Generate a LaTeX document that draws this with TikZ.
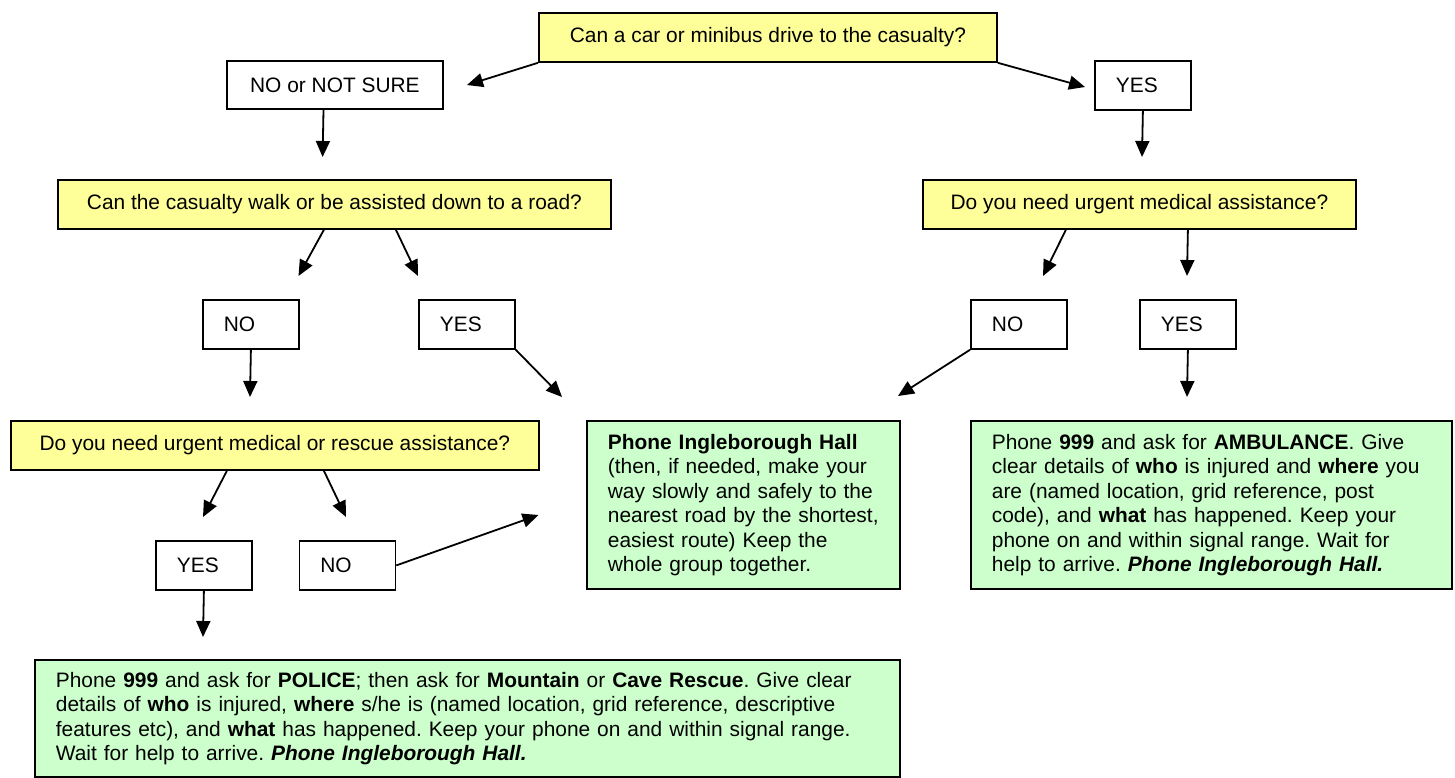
\documentclass[tikz,border=0pt]{standalone}
\usepackage{fontspec}
\setmainfont{Liberation Sans}
\usepackage{tikz}
\usetikzlibrary{arrows.meta, calc}
\definecolor{askYellow}{RGB}{255,255,153}
\definecolor{doGreen}{RGB}{204,255,204}
\frenchspacing

\begin{document}
\begin{tikzpicture}[x=0.5pt, y=-0.5pt, >={Triangle[length=8pt, width=7pt]},
	every node/.style={font=\fontsize{10.45}{12.25}\selectfont, line width=0.9pt},
	question/.style={draw, fill=askYellow, anchor=north west, minimum height=24.5pt, inner sep=0pt},
	answer/.style={draw, anchor=north west, minimum height=24.5pt, text width=27pt, inner xsep=10.5pt, inner ysep=0pt, align=left},
	action/.style={draw, fill=doGreen, anchor=north west, inner xsep=10.5pt, inner ysep=0pt, align=left},
	flow/.style={->, line width=0.9pt}]

	\useasboundingbox (0,0) rectangle (1455,777);

	% questions
	\node[question, minimum width=229pt] (carQ) at (538,12) {Can a car or minibus drive to the casualty?};
	\node[question, minimum width=276.5pt] (walkQ) at (57,179) {Can the casualty walk or be assisted down to a road?};
	\node[question, minimum width=216.5pt] (medQ) at (922,179) {Do you need urgent medical assistance?};
	\node[question, minimum width=264pt] (rescueQ) at (10,420) {Do you need urgent medical or rescue assistance?};

	% answers
	\node[draw, anchor=north west, minimum width=108pt, minimum height=24pt, inner sep=0pt] (notSure) at (226,60) {NO or NOT SURE};
	\node[answer] (carYes) at (1094,60) {YES};
	\node[answer] (walkNo) at (202,299) {NO};
	\node[answer] (walkYes) at (418,299) {YES};
	\node[answer] (medNo) at (970,299) {NO};
	\node[answer] (medYes) at (1139,299) {YES};
	\node[answer] (rescueYes) at (155,540) {YES};
	\node[answer] (rescueNo) at (298.5,540) {NO};

	% actions
	\node[action, text width=135.5pt, minimum height=84pt] (hall) at (586,420) {\textbf{Phone Ingleborough Hall}\\
		(then, if needed, make your\\
		way slowly and safely to the\\
		\mbox{nearest road by the shortest,}\\
		easiest route) Keep the\\
		whole group together.};
	\node[action, text width=219.5pt, minimum height=84pt] (ambulance) at (970,420) {Phone \textbf{999} and ask for \textbf{AMBULANCE}. Give\\
		clear details of \textbf{who} is injured and \textbf{where} you\\
		are (named location, grid reference, post\\
		code), and \textbf{what} has happened. Keep your\\
		phone on and within signal range. Wait for\\
		help to arrive. \textbf{\textit{Phone Ingleborough Hall.}}};
	\node[action, text width=411.5pt, minimum height=58.5pt] (police) at (34,659) {Phone \textbf{999} and ask for \textbf{POLICE}; then ask for \textbf{Mountain} or \textbf{Cave Rescue}. Give clear\\
		details of \textbf{who} is injured, \textbf{where} s/he is (named location, grid reference, descriptive\\
		features etc), and \textbf{what} has happened. Keep your phone on and within signal range.\\
		Wait for help to arrive. \textbf{\textit{Phone Ingleborough Hall.}}};

	% free arrow ends
	\coordinate (toNotSure) at (467,85);
	\coordinate (toCarYes) at (1085,87);
	\coordinate (toWalkQ) at (322.6,157);
	\coordinate (toMedQ) at (1142,157);
	\coordinate (toWalkNo) at (298.5,276);
	\coordinate (toWalkYes) at (418,276);
	\coordinate (toMedNo) at (1043,276);
	\coordinate (toMedYes) at (1187,276);
	\coordinate (toRescueQ) at (250,397);
	\coordinate (toHallL) at (562,397);
	\coordinate (toHallR) at (898,396);
	\coordinate (toAmbulance) at (1187,397);
	\coordinate (toRescueYes) at (203,517);
	\coordinate (toRescueNo) at (346,517);
	\coordinate (toHallB) at (538.5,515);
	\coordinate (toPolice) at (203,637);

	\draw[flow] (carQ.south west) -- (toNotSure);
	\draw[flow] (carQ.south east) -- (toCarYes);
	\draw[flow] ($(notSure.south)+(-11.4,0)$) -- (toWalkQ);
	\draw[flow] (carYes.south) -- (toMedQ);

	\draw[flow] ($(walkQ.south)+(-10.5,0)$) -- (toWalkNo);
	\draw[flow] ($(walkQ.south)+(61.5,0)$) -- (toWalkYes);
	\draw[flow] ($(medQ.south)+(-73.5,0)$) -- (toMedNo);
	\draw[flow] ($(medQ.south)+(48.5,0)$) -- (toMedYes);

	\draw[flow] (walkNo.south) -- (toRescueQ);
	\draw[flow] (walkYes.south east) -- (toHallL);
	\draw[flow] (medNo.south west) -- (toHallR);
	\draw[flow] (medYes.south) -- (toAmbulance);

	\draw[flow] ($(rescueQ.south)+(-48,0)$) -- (toRescueYes);
	\draw[flow] ($(rescueQ.south)+(49,0)$) -- (toRescueNo);
	\draw[flow] (rescueNo.east) -- (toHallB);
	\draw[flow] (rescueYes.south) -- (toPolice);

\end{tikzpicture}
\end{document}
